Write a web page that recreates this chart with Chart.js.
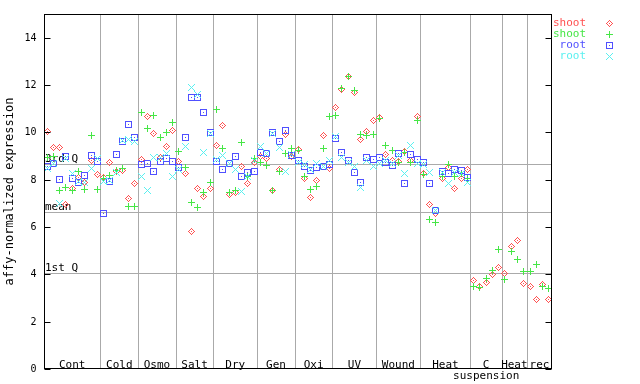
<!DOCTYPE html>
<html><head><meta charset="utf-8">
<script src="https://cdn.jsdelivr.net/npm/chart.js@4/dist/chart.umd.min.js"></script>
<style>html,body{margin:0;padding:0;background:#fff;}canvas{display:block;}</style>
</head><body>
<canvas id="c" width="640" height="384"></canvas>
<script>
// ---- data ----
const groups = ["Cont","Cold","Osmo","Salt","Dry","Gen","Oxi","UV","Wound","Heat","C","Heat","rec"];
const groupSubLabels = ["","","","","","","","","","","suspension","",""];
const groupSizes = [9,6,6,6,7,6,6,7,7,8,5,4,4];
const seriesNames = ["shoot","shoot","root","root"];
const shootRed = [
 10.02,9.35,9.38,6.93,7.63,8.10,7.86,8.83,8.22,
 8.10,8.73,8.36,8.40,7.21,7.82,
 8.86,10.65,9.95,8.95,9.42,10.07,
 8.76,8.27,5.80,7.63,7.28,7.63,
 9.43,10.30,7.38,7.47,8.57,7.84,8.73,
 9.00,8.90,7.53,8.41,9.92,8.97,
 9.27,8.05,7.25,7.98,9.88,8.48,
 11.05,11.81,12.35,11.68,9.70,10.05,10.50,
 10.62,9.07,8.83,8.76,9.17,8.79,10.68,
 8.24,6.97,6.55,8.06,8.52,7.63,8.06,8.41,
 3.72,3.47,3.66,4.01,4.30,
 4.05,5.19,5.41,3.60,
 3.47,2.92,3.56,2.92];
const shootGreen = [
 8.95,9.00,7.56,7.68,7.55,8.36,7.59,9.87,7.59,
 8.06,8.17,8.40,8.48,6.86,6.86,
 10.82,10.16,10.73,9.80,10.00,10.43,
 9.18,8.52,7.04,6.83,7.47,7.89,
 10.97,9.32,7.47,7.56,9.57,8.15,8.91,
 8.73,8.59,7.53,8.36,9.11,9.32,
 9.25,8.12,7.59,7.72,9.32,10.68,
 10.73,11.85,12.37,11.75,9.92,9.87,9.92,
 10.59,9.44,9.25,8.71,9.14,8.71,10.49,
 8.20,6.33,6.18,8.12,8.66,8.15,8.24,8.07,
 3.47,3.46,3.81,4.15,5.03,
 3.77,4.96,4.64,4.13,
 4.10,4.43,3.48,3.42];
const rootBlue = [
 8.57,8.69,8.01,8.97,8.06,7.87,8.19,9.04,8.76,
 6.58,7.94,9.07,9.60,10.35,9.80,
 8.62,8.69,8.36,8.76,8.90,8.76,
 8.52,9.79,11.47,11.47,10.84,9.98,
 8.76,8.44,8.69,8.98,8.12,8.31,8.36,
 9.15,9.11,9.98,9.60,10.06,9.04,
 8.83,8.57,8.38,8.52,8.55,8.65,
 9.74,9.15,8.80,8.31,7.89,8.93,8.86,
 8.94,8.71,8.60,9.11,7.84,9.07,8.86,
 8.71,7.84,6.69,8.33,8.27,8.44,8.38,8.10,
 null,null,null,null,null,
 null,null,null,null,
 null,null,null,null];
const rootCyan = [
 8.48,8.70,7.01,8.91,8.27,7.94,7.87,8.49,8.91,
 7.94,7.98,8.29,9.67,9.70,9.60,
 8.15,7.56,8.94,8.95,9.12,8.14,
 8.44,9.42,11.89,11.61,9.15,9.97,
 8.87,9.04,8.69,8.44,7.52,8.12,8.80,
 9.42,9.12,9.97,9.36,8.36,9.08,
 8.74,8.62,8.41,8.69,8.57,8.81,
 9.84,8.93,8.74,8.57,7.68,8.83,8.57,
 8.69,8.83,8.70,9.04,8.27,9.45,8.69,
 8.62,8.31,6.69,8.32,7.84,8.32,8.28,7.87,
 null,null,null,null,null,
 null,null,null,null,
 null,null,null,null];
const yTicks = [0,2,4,6,8,10,12,14];
const refLabels = ["3rd Q","mean","1st Q"];
const refValues = [8.68,6.62,4.07];
const yTitle = "affy-normalized expression";

// ---- styles ----
const colors = ["rgb(255,80,80)","rgb(70,230,70)","rgb(80,80,255)","rgb(90,240,240)"];
const FONT = '"DejaVu Sans Mono", monospace';

function makeMarker(kind, color){
  const c = document.createElement('canvas'); c.width = 7; c.height = 7;
  const g = c.getContext('2d'); g.fillStyle = color;
  for (let dy=-3; dy<=3; dy++) for (let dx=-3; dx<=3; dx++){
    const ax=Math.abs(dx), ay=Math.abs(dy); let on=false;
    if (kind==='diamond') on = (ax+ay===3) || (ax===0&&ay===0);
    if (kind==='plus') on = (dx===0 || dy===0);
    if (kind==='square') on = (Math.max(ax,ay)===3) || (ax===0&&ay===0);
    if (kind==='cross') on = (ax===ay);
    if (on) g.fillRect(dx+3, dy+3, 1, 1);
  }
  return c;
}
const markerKinds = ['diamond','plus','square','cross'];
const markers = markerKinds.map((k,i)=>makeMarker(k, colors[i]));
const seriesValues = [shootRed, shootGreen, rootBlue, rootCyan];

const datasets = seriesValues.map((vals, s) => ({
  label: seriesNames[s],
  data: vals.map((v,i)=>({x:i, y:v})).filter(p=>p.y!==null),
  pointStyle: markers[s],
  pointRadius: 3.5,
  order: 4 - s,
  showLine: false
}));

function hline(ctx,x1,x2,y){ctx.beginPath();ctx.moveTo(x1,y);ctx.lineTo(x2,y);ctx.stroke();}
function vline(ctx,x,y1,y2){ctx.beginPath();ctx.moveTo(x,y1);ctx.lineTo(x,y2);ctx.stroke();}

const deco = {
  id: 'deco',
  beforeDatasetsDraw(chart){
    const {ctx, chartArea:a, scales:{x, y}} = chart;
    ctx.save();
    ctx.strokeStyle = '#aaaaaa'; ctx.lineWidth = 1;
    let cum = 0;
    groupSizes.forEach((n,k)=>{
      cum += n;
      if (k < groupSizes.length-1){
        const px = Math.round(x.getPixelForValue(cum-0.5)) + 0.5;
        vline(ctx, px, a.top, a.bottom);
      }
    });
    refValues.forEach(v=>{
      const py = Math.round(y.getPixelForValue(v)) + 0.5;
      hline(ctx, a.left, a.right, py);
    });
    ctx.fillStyle = '#000'; ctx.font = '11px ' + FONT;
    ctx.textAlign = 'left'; ctx.textBaseline = 'alphabetic';
    refLabels.forEach((t,k)=>{
      const py = Math.round(y.getPixelForValue(refValues[k]));
      ctx.fillText(t, a.left + 1, py - 2);
    });
    ctx.textAlign = 'center';
    cum = 0;
    groups.forEach((g,k)=>{
      const cx = x.getPixelForValue(cum + (groupSizes[k]-1)/2);
      ctx.fillText(g, cx, a.bottom - 1);
      if (groupSubLabels[k]) ctx.fillText(groupSubLabels[k], cx, a.bottom + 10);
      cum += groupSizes[k];
    });
    ctx.restore();
    ctx.save();
    ctx.imageSmoothingEnabled = false;
  },
  afterDatasetsDraw(chart){
    chart.ctx.restore();
  },
  afterDraw(chart){
    const {ctx, chartArea:a, scales:{y}} = chart;
    ctx.save();
    ctx.strokeStyle = '#000'; ctx.lineWidth = 1;
    const L = Math.round(a.left)+0.5, R = Math.round(a.right)-0.5, T = Math.round(a.top)+0.5, B = Math.round(a.bottom)-0.5;
    ctx.strokeRect(L, T, R-L, B-T);
    ctx.fillStyle = '#000';
    ctx.font = '10px ' + FONT; ctx.textAlign = 'right'; ctx.textBaseline = 'middle';
    yTicks.forEach(v=>{
      const py = Math.round(y.getPixelForValue(v)) + 0.5;
      hline(ctx, L, L+6, py);
      hline(ctx, R-6, R, py);
      ctx.fillText(String(v), L - 8, py);
    });
    ctx.save();
    ctx.translate(10, (a.top + a.bottom)/2);
    ctx.rotate(-Math.PI/2);
    ctx.font = '12px ' + FONT; ctx.textAlign = 'center'; ctx.textBaseline = 'middle';
    ctx.fillText(yTitle, 0, 0);
    ctx.restore();
    // legend
    ctx.font = '11px ' + FONT; ctx.textAlign = 'right'; ctx.textBaseline = 'middle';
    ctx.imageSmoothingEnabled = false;
    seriesNames.forEach((nm,s)=>{
      const ly = 23 + s*11;
      ctx.fillStyle = colors[s];
      ctx.fillText(nm, 586, ly);
      ctx.drawImage(markers[s], 606, ly - 3);
    });
    ctx.restore();
  }
};

new Chart(document.getElementById('c'), {
  type: 'scatter',
  data: { datasets },
  options: {
    responsive: false, animation: false, devicePixelRatio: 1,
    layout: { padding: { left: 44, top: 14, right: 88, bottom: 15 } },
    plugins: { legend: { display: false }, tooltip: { enabled: false } },
    scales: {
      x: { type: 'linear', min: -0.5, max: 80.5, display: false },
      y: { min: 0, max: 15, display: false }
    }
  },
  plugins: [deco]
});
</script>
</body></html>
